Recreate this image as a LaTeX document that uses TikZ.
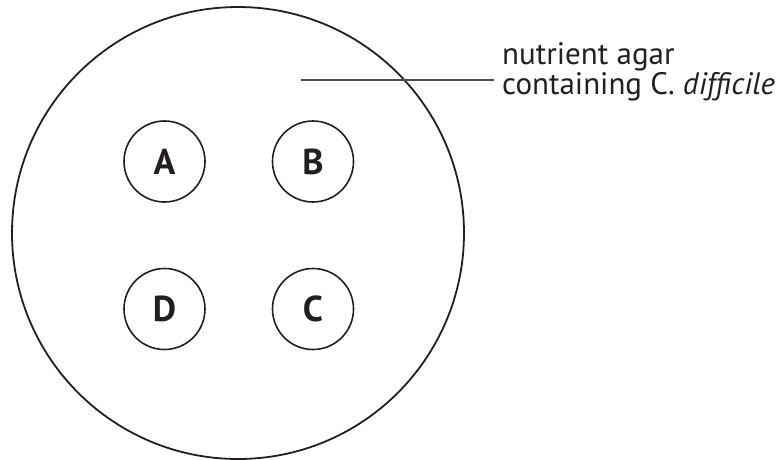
\documentclass[tikz,border=0pt]{standalone}
\usepackage{fontspec}
\setmainfont{PT Sans}
\definecolor{ink}{HTML}{231F20}
\begin{document}
\begin{tikzpicture}[x=1pt,y=-1pt,
  plate/.style={draw=ink,circle,line width=1.8pt,minimum size=452pt,inner sep=0pt},
  well/.style={draw=ink,text=ink,circle,line width=1.6pt,minimum size=81pt,inner sep=0pt,font=\fontsize{36}{40}\selectfont\bfseries},
  lbl/.style={inner sep=0pt,anchor=base west,text=ink,font=\fontsize{31}{32}\selectfont},
  leader/.style={draw=black!70,line width=1.3pt}]
\useasboundingbox (0,0) rectangle (779,459);
\node[plate] (dish) at (238,233) {};
\node[well] (A) at (164.5,161.5) {A};
\node[well] (B) at (313,161.5) {B};
\node[well] (D) at (164.5,309) {D};
\node[well] (C) at (313,309) {C};
\node[lbl] (label1) at (502,64.3) {nutrient agar};
\node[lbl] (label2) at (502,94.3) {containing C. \textit{difficile}};
\coordinate (lead) at (301,80);
\draw[leader] (lead) -- ([xshift=-8pt]label1.west |- lead);
\end{tikzpicture}
\end{document}
